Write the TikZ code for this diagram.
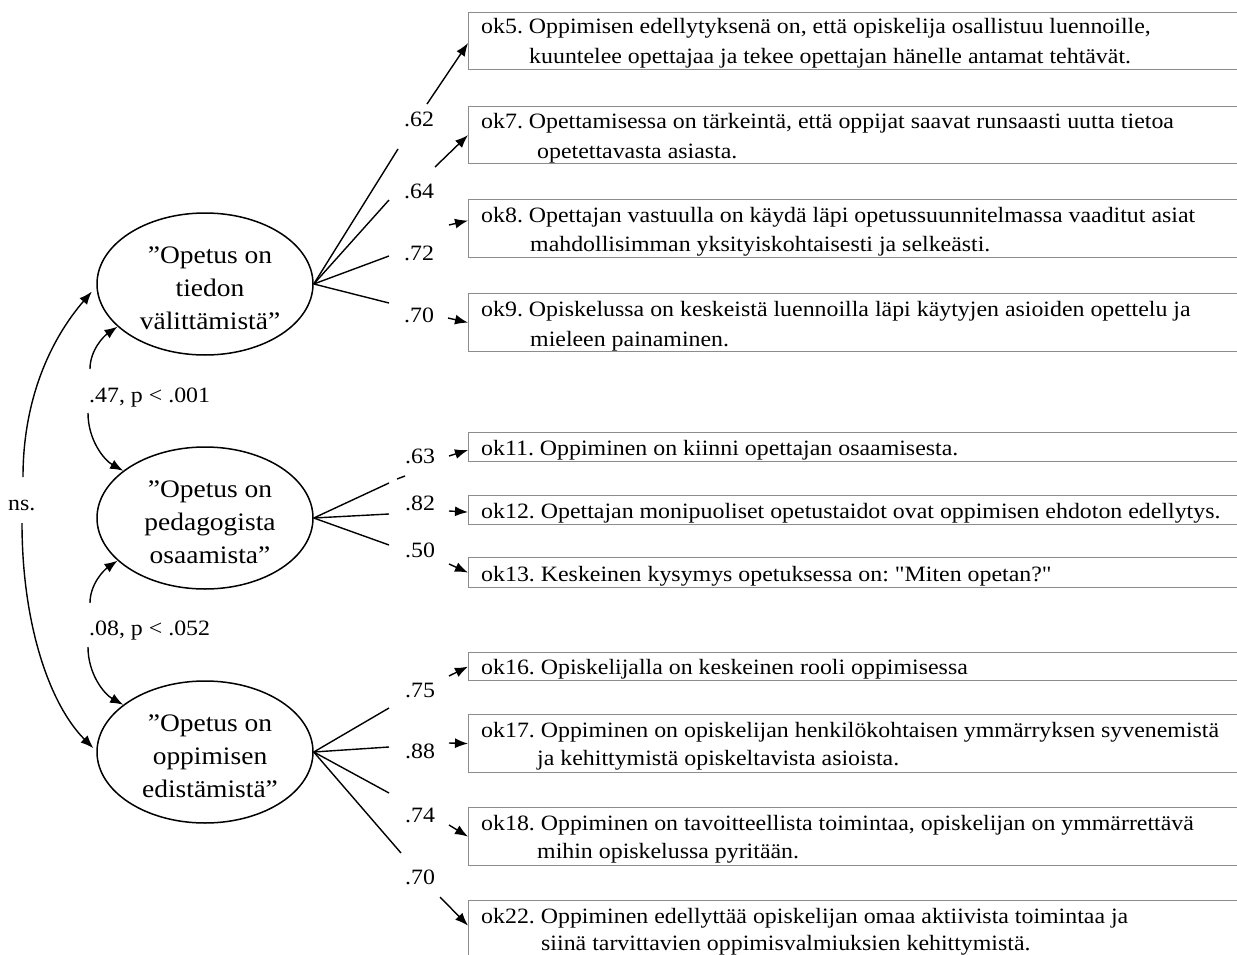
\documentclass[tikz,border=0pt]{standalone}
\usepackage{fontspec}
\setmainfont{Liberation Serif}[FakeStretch=1.09]
\newfontfamily\qfont{Liberation Serif}[FakeStretch=1.09]
\usetikzlibrary{shapes.geometric,arrows.meta,calc}
\frenchspacing
\begin{document}
\begin{tikzpicture}[x=1pt,y=-1pt,
  every node/.style={inner sep=0pt},
  latent/.style={ellipse,draw,line width=1.5pt,minimum width=216pt,minimum height=142pt},
  lattext/.style={align=center,font=\fontsize{25.2}{33}\selectfont},
  item/.style={draw=black!45,line width=1.2pt,anchor=north west,minimum width=900pt},
  itemtext/.style={anchor=base west,font=\fontsize{21.9}{25}\selectfont},
  coef/.style={anchor=base west,font=\fontsize{21.9}{25}\selectfont},
  path/.style={line width=1.4pt},
  arr/.style={line width=1.4pt,-{Latex[length=13pt,width=10pt]}}
]
\useasboundingbox (0,0) rectangle (1237,955);
\clip (0,0) rectangle (1237,955);
\fill[white] (0,0) rectangle (1237,955);

% latent variables
\node[latent] (e1) at (205,284) {};
\node[latent] (e2) at (205,518) {};
\node[latent] (e3) at (205,752) {};
\node[lattext] (t1) at (210,288) {”Opetus on\\tiedon\\välittämistä”};
\node[lattext] (t2) at (210,522) {”Opetus on\\pedagogista\\osaamista”};
\node[lattext] (t3) at (210,756) {”Opetus on\\oppimisen\\edistämistä”};

% item boxes
\node[item,minimum height=57pt] (b5) at (468,12) {};
\node[item,minimum height=57pt] (b7) at (468,106) {};
\node[item,minimum height=58pt] (b8) at (468,199) {};
\node[item,minimum height=58pt] (b9) at (468,293) {};
\node[item,minimum height=29pt] (b11) at (468,432) {};
\node[item,minimum height=29pt] (b12) at (468,495) {};
\node[item,minimum height=30pt] (b13) at (468,557) {};
\node[item,minimum height=28pt] (b16) at (468,652) {};
\node[item,minimum height=58pt] (b17) at (468,714) {};
\node[item,minimum height=58pt] (b18) at (468,807) {};
\node[item,minimum height=58pt] (b22) at (468,900) {};

\node[itemtext] at (481,34) {ok5. Oppimisen edellytyksenä on, että opiskelija osallistuu luennoille,};
\node[itemtext] at (529,64) {kuuntelee opettajaa ja tekee opettajan hänelle antamat tehtävät.};
\node[itemtext] at (481,129) {ok7. Opettamisessa on tärkeintä, että oppijat saavat runsaasti uutta tietoa};
\node[itemtext] at (537,158) {opetettavasta asiasta.};
\node[itemtext] at (481,222) {ok8. Opettajan vastuulla on käydä läpi opetussuunnitelmassa vaaditut asiat};
\node[itemtext] at (530,251) {mahdollisimman yksityiskohtaisesti ja selkeästi.};
\node[itemtext] at (481,316) {ok9. Opiskelussa on keskeistä luennoilla läpi käytyjen asioiden opettelu ja};
\node[itemtext] at (530,346) {mieleen painaminen.};
\node[itemtext] at (481,455) {ok11. Oppiminen on kiinni opettajan osaamisesta.};
\node[itemtext] at (481,518) {ok12. Opettajan monipuoliset opetustaidot ovat oppimisen ehdoton edellytys.};
\node[itemtext] at (481,581) {ok13. Keskeinen kysymys opetuksessa on: {\qfont"}Miten opetan?{\qfont"}};
\node[itemtext] at (481,674) {ok16. Opiskelijalla on keskeinen rooli oppimisessa};
\node[itemtext] at (481,737) {ok17. Oppiminen on opiskelijan henkilökohtaisen ymmärryksen syvenemistä};
\node[itemtext] at (537,765) {ja kehittymistä opiskeltavista asioista.};
\node[itemtext] at (481,830) {ok18. Oppiminen on tavoitteellista toimintaa, opiskelijan on ymmärrettävä};
\node[itemtext] at (537,858) {mihin opiskelussa pyritään.};
\node[itemtext] at (481,923) {ok22. Oppiminen edellyttää opiskelijan omaa aktiivista toimintaa ja};
\node[itemtext] at (541,950) {siinä tarvittavien oppimisvalmiuksien kehittymistä.};

% coefficient labels
\node[coef] (c62) at (404,127) {.62};
\node[coef] (c64) at (404,198) {.64};
\node[coef] (c72) at (404,260) {.72};
\node[coef] (c70) at (404,322) {.70};
\node[coef] (c63) at (405,463) {.63};
\node[coef] (c82) at (405,510) {.82};
\node[coef] (c50) at (405,557) {.50};
\node[coef] (c75) at (405,697) {.75};
\node[coef] (c88) at (405,758) {.88};
\node[coef] (c74) at (405,822) {.74};
\node[coef] (c70b) at (405,884) {.70};
\node[coef] (r1) at (89,402) {.47, p < .001};
\node[coef] (r2) at (89,635) {.08, p < .052};
\node[coef] (ns) at (8,510) {ns.};

% loading paths: line segments
\coordinate (l62) at (398,149); \coordinate (a62) at (427,104);
\coordinate (l64) at (389,200); \coordinate (a64) at (435,167);
\coordinate (l72) at (389,256); \coordinate (a72) at (449,225);
\coordinate (l70) at (389,303); \coordinate (a70) at (448,318);
\coordinate (l63) at (389,483); \coordinate (a63) at (449,456);
\coordinate (l82) at (389,514); \coordinate (a82) at (449,511);
\coordinate (l50) at (389,545); \coordinate (a50) at (449,564);
\coordinate (l75) at (389,708); \coordinate (a75) at (449,676);
\coordinate (l88) at (389,747); \coordinate (a88) at (449,743);
\coordinate (l74) at (389,793); \coordinate (a74) at (449,825);
\coordinate (l70b) at (401,853); \coordinate (a70b) at (440,897);
\coordinate (d1) at (397,479); \coordinate (d2) at (405,476);

\draw[path] (e1.east) -- (l62);
\draw[path] (e1.east) -- (l64);
\draw[path] (e1.east) -- (l72);
\draw[path] (e1.east) -- (l70);
\draw[path] (e2.east) -- (l63);
\draw[path] (d1) -- (d2);
\draw[path] (e2.east) -- (l82);
\draw[path] (e2.east) -- (l50);
\draw[path] (e3.east) -- (l75);
\draw[path] (e3.east) -- (l88);
\draw[path] (e3.east) -- (l74);
\draw[path] (e3.east) -- (l70b);

\draw[arr] (a62) -- ([yshift=-2pt]b5.west);
\draw[arr] (a64) -- (b7.west);
\draw[arr] (a72) -- ([yshift=8pt]b8.west);
\draw[arr] (a70) -- (b9.west);
\draw[arr] (a63) -- ([yshift=-3pt]b11.west);
\draw[arr] (a82) -- ([yshift=-2pt]b12.west);
\draw[arr] (a50) -- (b13.west);
\draw[arr] (a75) -- (b16.west);
\draw[arr] (a88) -- (b17.west);
\draw[arr] (a74) -- (b18.west);
\draw[arr] (a70b) -- ([yshift=4pt]b22.west);

% correlations
\coordinate (n1) at (23,477); \coordinate (n2) at (22,523);
\coordinate (p1) at (90,369); \coordinate (p2) at (88,413);
\coordinate (q1) at (90,603); \coordinate (q2) at (88,647);
\draw[arr] (n1) .. controls (23,400) and (50,340) .. ([xshift=-5pt]e1.184);
\draw[arr] (n2) .. controls (22,625) and (50,705) .. ([xshift=-3pt]e3.178);
\draw[arr] (p1) .. controls (90,350) and (104,336) .. (e1.206);
\draw[arr] (p2) .. controls (88,440) and (104,460) .. (e2.150);
\draw[arr] (q1) .. controls (90,584) and (104,570) .. (e2.206);
\draw[arr] (q2) .. controls (88,674) and (104,694) .. (e3.150);
\end{tikzpicture}
\end{document}
